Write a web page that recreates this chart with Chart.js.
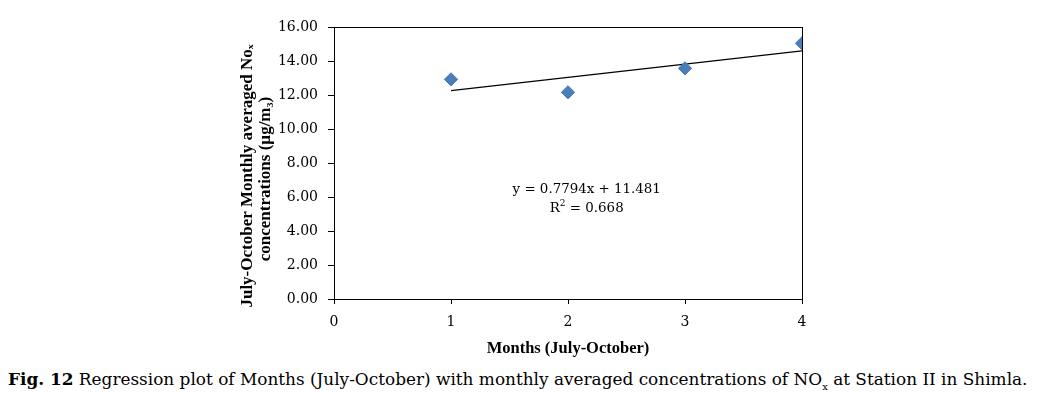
<!DOCTYPE html>
<html>
<head>
    <title>NOx regression - Station II Shimla</title>
    <script src="https://cdn.jsdelivr.net/npm/chart.js"></script>
    <style>
        body { margin: 0; background: #fff; }
        #wrap { position: relative; width: 1039px; height: 362px; }
        #caption {
            position: absolute; left: 8px; top: 369px; white-space: nowrap;
            font-family: 'DejaVu Serif', serif; font-size: 16.9px; color: #000;
        }
        #caption sub { font-size: 10px; vertical-align: -5px; }
    </style>
</head>
<body>
    <div id="wrap"><canvas id="regChart" width="1039" height="362"></canvas></div>
    <div id="caption"><b>Fig. 12</b> Regression plot of Months (July-October) with monthly averaged concentrations of NO<sub>x</sub> at Station II in Shimla.</div>

    <script>
        // months 1..4 (July..October), averaged NOx (µg/m3)
        const months = [1, 2, 3, 4];
        const noxValues = [12.92, 12.16, 13.57, 15.04];
        const yTicks = [0, 2, 4, 6, 8, 10, 12, 14, 16];
        const xTicks = [0, 1, 2, 3, 4];
        const yTitle = ['July-October Monthly averaged Noₓ', 'concentrations (µg/m₃)'];
        // excel linear trendline
        const slope = 0.7794;
        const intercept = 11.481;
        const rSquared = 0.668;

        const serif = "'DejaVu Serif', serif";
        const titleSerif = "'Liberation Serif', 'DejaVu Serif', serif";

        const points = months.map((m, i) => ({ x: m, y: noxValues[i] }));
        const trend = [months[0], months[months.length - 1]].map(m => ({ x: m, y: slope * m + intercept }));

        const frame = {
            id: 'frame',
            afterDatasetsDraw(chart) {
                const { ctx, chartArea: a, scales } = chart;
                ctx.save();
                ctx.strokeStyle = '#000';
                ctx.lineWidth = 1;
                ctx.strokeRect(Math.round(a.left) + 0.5, Math.round(a.top) + 0.5,
                    Math.round(a.right - a.left), Math.round(a.bottom - a.top));

                // equation label
                const cx = scales.x.getPixelForValue(2.16);
                ctx.fillStyle = '#000';
                ctx.textBaseline = 'middle';
                ctx.textAlign = 'center';
                ctx.font = '13.4px ' + serif;
                ctx.fillText('y = ' + slope + 'x + ' + intercept, cx, scales.y.getPixelForValue(6.45));
                const rest = ' = ' + rSquared.toFixed(3);
                const wR = ctx.measureText('R').width;
                const wRest = ctx.measureText(rest).width;
                ctx.font = '9px ' + serif;
                const w2 = ctx.measureText('2').width;
                const y2 = scales.y.getPixelForValue(5.3);
                let x0 = cx - (wR + w2 + wRest) / 2;
                ctx.textAlign = 'left';
                ctx.fillText('2', x0 + wR, y2 - 5);
                ctx.font = '13.4px ' + serif;
                ctx.fillText('R', x0, y2);
                ctx.fillText(rest, x0 + wR + w2, y2);

                // y axis title, two rotated lines
                ctx.font = 'bold 17px ' + titleSerif;
                ctx.textAlign = 'center';
                ctx.translate(a.left - 86, 176);
                ctx.rotate(-Math.PI / 2);
                ctx.fillText(yTitle[0], 0, 0);
                ctx.fillText(yTitle[1], -3, 18);
                ctx.restore();
            }
        };

        new Chart(document.getElementById('regChart'), {
            type: 'scatter',
            data: {
                datasets: [{
                    label: 'NOx',
                    data: points,
                    pointStyle: 'rectRot',
                    pointRadius: 6.6,
                    pointHoverRadius: 6.6,
                    backgroundColor: '#4A7EBB',
                    borderColor: '#4677B3',
                    borderWidth: 1,
                    order: 0
                }, {
                    type: 'line',
                    label: 'Linear',
                    data: trend,
                    borderColor: '#000',
                    borderWidth: 1.3,
                    pointRadius: 0,
                    fill: false,
                    order: 1
                }]
            },
            options: {
                responsive: false,
                animation: false,
                layout: { padding: { left: 236, right: 237, top: 27, bottom: 3 } },
                plugins: { legend: { display: false }, tooltip: { enabled: false } },
                scales: {
                    x: {
                        type: 'linear',
                        min: 0, max: 4,
                        afterBuildTicks: s => { s.ticks = xTicks.map(v => ({ value: v })); },
                        afterFit: s => { s.height = 60; },
                        grid: { drawOnChartArea: false, drawTicks: true, tickLength: 5, color: '#000' },
                        border: { display: true, color: '#000', width: 1 },
                        ticks: { color: '#000', font: { family: serif, size: 14 }, padding: 10, maxRotation: 0 },
                        title: {
                            display: true, text: 'Months (July-October)', color: '#000',
                            font: { family: titleSerif, size: 16.5, weight: 'bold' },
                            padding: { top: 0, bottom: 0 }
                        }
                    },
                    y: {
                        min: 0, max: 16,
                        afterBuildTicks: s => { s.ticks = yTicks.map(v => ({ value: v })); },
                        afterFit: s => { s.width = 98; },
                        grid: { drawOnChartArea: false, drawTicks: true, tickLength: 6, color: '#000' },
                        border: { display: true, color: '#000', width: 1 },
                        ticks: { color: '#000', font: { family: serif, size: 14 }, padding: 10,
                            callback: v => v.toFixed(2) },
                        title: { display: false }
                    }
                }
            },
            plugins: [frame]
        });
    </script>
</body>
</html>
